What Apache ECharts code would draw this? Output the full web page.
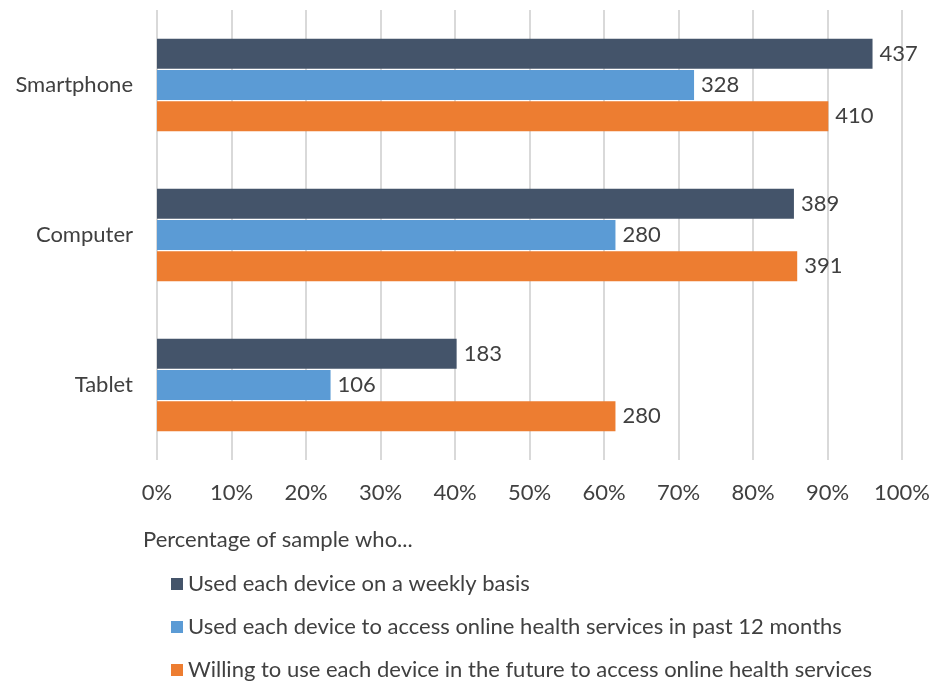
<!DOCTYPE html>
<html>
<head>
<meta charset="utf-8">
<script src="https://cdn.jsdelivr.net/npm/echarts@6/dist/echarts.min.js"></script>
<style>
  html, body { margin: 0; padding: 0; background: #fff; }
  #chart { width: 935px; height: 686px; }
</style>
</head>
<body>
<div id="chart"></div>
<script>
// Survey sample size; bar lengths are the share of respondents.
const sampleSize = 455;
const devices = ['Smartphone', 'Computer', 'Tablet'];
const seriesNames = [
  'Used each device on a weekly basis',
  'Used each device to access online health services in past 12 months',
  'Willing to use each device in the future to access online health services'
];
const weeklyCounts = [437, 389, 183];
const healthPastCounts = [328, 280, 106];
const futureCounts = [410, 391, 280];
const colors = ['#44546A', '#5B9BD5', '#ED7D31'];
const percentTicks = [0, 10, 20, 30, 40, 50, 60, 70, 80, 90, 100];

const FONT = 'Lato';
const TEXT = '#404040';
const SIZE = 22;

function toSeries(name, counts, color) {
  return {
    name: name,
    type: 'bar',
    barWidth: 30,
    barGap: '4%',
    itemStyle: { color: color },
    label: {
      show: true,
      position: 'right',
      distance: 7,
      color: TEXT,
      fontFamily: FONT,
      fontSize: SIZE,
      formatter: p => p.data.count
    },
    data: counts.map(c => ({ value: c / sampleSize * 100, count: c }))
  };
}

const chart = echarts.init(document.getElementById('chart'), null, { renderer: 'canvas' });
chart.setOption({
  animation: false,
  title: {
    text: 'Percentage of sample who...',
    left: 138, top: 524,
    textStyle: { fontFamily: FONT, fontSize: SIZE, fontWeight: 'normal', color: TEXT }
  },
  legend: {
    orient: 'vertical',
    left: 166, top: 568, height: 140,
    itemWidth: 12, itemHeight: 12,
    itemGap: 21,
    icon: 'rect',
    selectedMode: false,
    data: seriesNames,
    textStyle: { fontFamily: FONT, fontSize: SIZE, color: TEXT, padding: [0, 0, 0, 0] }
  },
  grid: { left: 157, right: 33, top: 10, bottom: 226 },
  xAxis: {
    type: 'value',
    min: 0, max: 100, interval: 10,
    axisLine: { show: false },
    axisTick: { show: false },
    splitLine: { show: true, lineStyle: { color: '#D9D9D9', width: 2 } },
    axisLabel: {
      margin: 22,
      color: TEXT, fontFamily: FONT, fontSize: SIZE,
      formatter: v => percentTicks.includes(v) ? v + '%' : ''
    }
  },
  yAxis: {
    type: 'category',
    inverse: true,
    data: devices,
    axisLine: { show: false },
    axisTick: { show: false },
    axisLabel: { margin: 24, color: TEXT, fontFamily: FONT, fontSize: SIZE }
  },
  series: [
    toSeries(seriesNames[0], weeklyCounts, colors[0]),
    toSeries(seriesNames[1], healthPastCounts, colors[1]),
    toSeries(seriesNames[2], futureCounts, colors[2])
  ]
});
</script>
</body>
</html>
